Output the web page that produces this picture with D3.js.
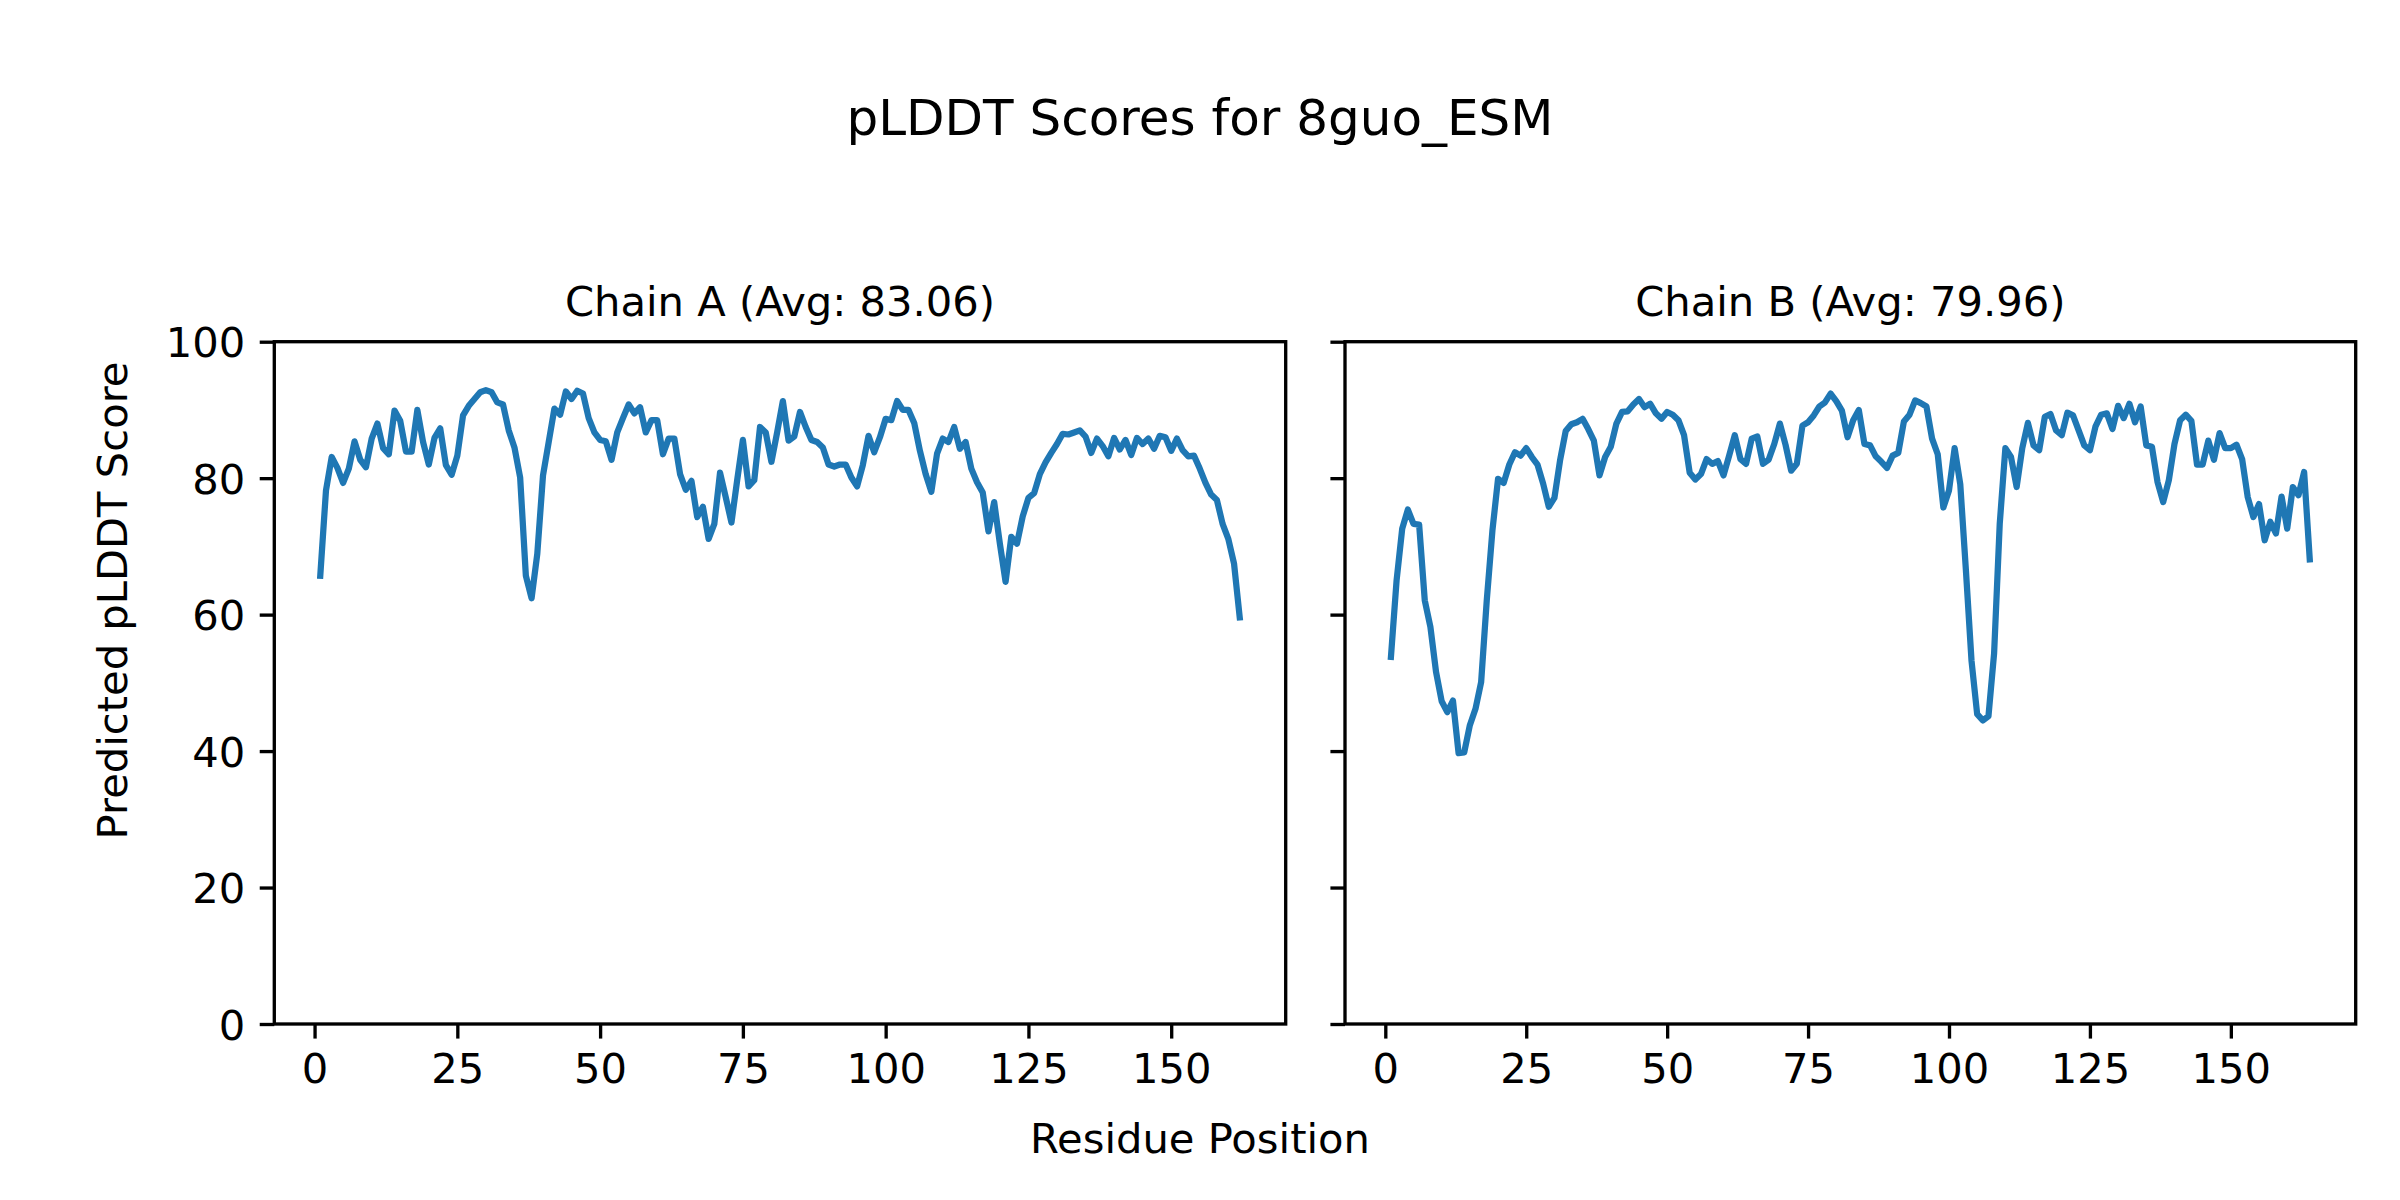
<!DOCTYPE html>
<html>
<head>
<meta charset="utf-8">
<script src="https://cdn.jsdelivr.net/npm/d3@7"></script>
<style>
  html, body { margin: 0; padding: 0; background: #ffffff; }
  svg { display: block; }
  text { font-family: "DejaVu Sans", sans-serif; fill: #000; }
</style>
</head>
<body>
<svg id="chart" width="2400" height="1200"></svg>
<script>
// ---------------- data ----------------
const figureTitle = "pLDDT Scores for 8guo_ESM";
const xAxisLabel = "Residue Position";
const yAxisLabel = "Predicted pLDDT Score";
const chainNames = ["Chain A", "Chain B"];
const chainAverages = ["83.06", "79.96"];
const xTickValues = [0, 25, 50, 75, 100, 125, 150];
const yTickValues = [0, 20, 40, 60, 80, 100];

const chainAScores = [
  65.7, 78.2, 83.1, 81.5, 79.3, 81.4, 85.4, 82.7, 81.6, 85.8,
  88.0, 84.4, 83.5, 89.9, 88.4, 83.9, 83.9, 90.0, 85.3, 82.0,
  85.9, 87.3, 81.9, 80.5, 83.3, 89.2, 90.6, 91.6, 92.6, 92.9,
  92.6, 91.1, 90.8, 87.0, 84.5, 80.1, 65.7, 62.4, 68.9, 80.4,
  85.3, 90.2, 89.3, 92.7, 91.6, 92.8, 92.4, 88.8, 86.7, 85.6,
  85.4, 82.7, 86.7, 88.8, 90.8, 89.5, 90.4, 86.7, 88.5, 88.5,
  83.5, 85.8, 85.8, 80.6, 78.3, 79.6, 74.3, 75.8, 71.1, 73.3,
  80.8, 77.2, 73.5, 79.7, 85.6, 78.8, 79.7, 87.5, 86.7, 82.4,
  86.7, 91.3, 85.5, 86.1, 89.7, 87.5, 85.6, 85.3, 84.5, 82.0,
  81.7, 82.0, 82.0, 80.1, 78.8, 81.9, 86.2, 83.8, 86.0, 88.7,
  88.5, 91.3, 90.0, 90.0, 88.1, 84.0, 80.6, 78.0, 83.6, 85.8,
  85.3, 87.5, 84.3, 85.3, 81.4, 79.4, 77.9, 72.2, 76.5, 70.4,
  64.8, 71.4, 70.4, 74.4, 77.1, 77.8, 80.6, 82.3, 83.7, 85.0,
  86.5, 86.4, 86.7, 87.0, 86.1, 83.7, 85.8, 84.7, 83.2, 85.9,
  84.2, 85.6, 83.4, 85.9, 85.0, 85.8, 84.3, 86.2, 86.0, 84.0,
  85.8, 84.1, 83.2, 83.3, 81.4, 79.3, 77.6, 76.8, 73.3, 71.1,
  67.5, 59.6
];

const chainBScores = [
  53.8, 65.0, 72.6, 75.4, 73.3, 73.2, 62.1, 58.2, 51.6, 47.3,
  45.7, 47.4, 39.7, 39.8, 43.8, 46.2, 50.1, 62.1, 72.3, 79.9,
  79.3, 82.0, 83.8, 83.3, 84.4, 83.1, 82.0, 79.2, 75.8, 77.1,
  82.6, 86.9, 87.9, 88.2, 88.7, 87.2, 85.5, 80.4, 83.1, 84.6,
  88.0, 89.7, 89.8, 90.8, 91.6, 90.4, 90.9, 89.5, 88.7, 89.7,
  89.3, 88.5, 86.3, 80.8, 79.8, 80.6, 82.8, 82.1, 82.5, 80.4,
  83.3, 86.3, 82.8, 82.1, 85.8, 86.1, 82.1, 82.7, 85.0, 88.0,
  84.9, 81.1, 82.1, 87.7, 88.2, 89.2, 90.5, 91.1, 92.4, 91.3,
  89.9, 86.0, 88.5, 90.0, 85.0, 84.8, 83.2, 82.4, 81.5, 83.3,
  83.7, 88.3, 89.3, 91.4, 91.0, 90.5, 85.8, 83.5, 75.7, 78.2,
  84.4, 79.1, 66.5, 53.2, 45.4, 44.5, 45.1, 54.3, 73.3, 84.4,
  83.1, 78.7, 84.4, 88.1, 84.8, 84.1, 89.0, 89.4, 87.0, 86.3,
  89.6, 89.2, 87.0, 84.8, 84.1, 87.6, 89.3, 89.5, 87.2, 90.6,
  88.8, 90.9, 88.2, 90.5, 84.8, 84.6, 79.4, 76.5, 79.7, 85.0,
  88.5, 89.3, 88.4, 82.0, 82.0, 85.5, 82.7, 86.6, 84.4, 84.4,
  84.9, 82.8, 77.2, 74.3, 76.2, 70.9, 73.6, 71.9, 77.3, 72.6,
  78.7, 77.5, 80.9, 68.1
];

// ---------------- layout ----------------
const svg = d3.select("#chart");
const PT = 300 / 72;              // px per point
const tickFont = 10 * PT;         // 41.67 px
const titleFont = 10 * PT;
const supFont = 12 * PT;          // 50 px
const spineW = 0.8 * PT;          // 3.33 px
const tickLen = 3.5 * PT;         // 14.6 px
const tickPad = 3.5 * PT;
const lineW = 1.5 * PT;           // 6.25 px
const lineColor = "#1f77b4";

const axTop = 341.7, axBottom = 1024;
const panels = [
  { name: chainNames[0], avg: chainAverages[0], scores: chainAScores, left: 274.3, right: 1285.7, showYLabels: true },
  { name: chainNames[1], avg: chainAverages[1], scores: chainBScores, left: 1345.0, right: 2355.7, showYLabels: false }
];

const yScale = d3.scaleLinear().domain([0, 100]).range([axBottom, axTop]);

panels.forEach(p => {
  const n = p.scores.length;
  const span = n - 1;
  const xScale = d3.scaleLinear()
    .domain([1 - 0.05 * span, n + 0.05 * span])
    .range([p.left, p.right]);

  const g = svg.append("g");

  // line
  const line = d3.line()
    .x((d, i) => xScale(i + 1))
    .y(d => yScale(d));
  g.append("path")
    .datum(p.scores)
    .attr("d", line)
    .attr("fill", "none")
    .attr("stroke", lineColor)
    .attr("stroke-width", lineW)
    .attr("stroke-linejoin", "round")
    .attr("stroke-linecap", "square");

  // x axis
  const xAxis = d3.axisBottom(xScale)
    .tickValues(xTickValues)
    .tickFormat(d3.format("d"))
    .tickSizeInner(tickLen)
    .tickSizeOuter(0)
    .tickPadding(tickPad);
  const gx = g.append("g")
    .attr("transform", `translate(0,${axBottom})`)
    .call(xAxis);
  gx.select(".domain").remove();
  gx.selectAll(".tick line").attr("stroke", "#000").attr("stroke-width", spineW);
  gx.selectAll(".tick text")
    .attr("font-size", tickFont)
    .attr("font-family", "DejaVu Sans")
    .attr("fill", "#000");

  // y axis
  const yAxis = d3.axisLeft(yScale)
    .tickValues(yTickValues)
    .tickFormat(p.showYLabels ? d3.format("d") : () => "")
    .tickSizeInner(tickLen)
    .tickSizeOuter(0)
    .tickPadding(tickPad);
  const gy = g.append("g")
    .attr("transform", `translate(${p.left},0)`)
    .call(yAxis);
  gy.select(".domain").remove();
  gy.selectAll(".tick line").attr("stroke", "#000").attr("stroke-width", spineW);
  gy.selectAll(".tick text")
    .attr("font-size", tickFont)
    .attr("font-family", "DejaVu Sans")
    .attr("fill", "#000")
    .attr("dy", "0.36em");

  // spines
  g.append("rect")
    .attr("x", p.left).attr("y", axTop)
    .attr("width", p.right - p.left).attr("height", axBottom - axTop)
    .attr("fill", "none")
    .attr("stroke", "#000")
    .attr("stroke-width", spineW)
    .attr("stroke-linejoin", "miter");

  // title
  g.append("text")
    .attr("x", (p.left + p.right) / 2)
    .attr("y", 315.5)
    .attr("text-anchor", "middle")
    .attr("font-size", titleFont)
    .text(`${p.name} (Avg: ${p.avg})`);
});

// figure title
svg.append("text")
  .attr("x", 1200).attr("y", 134.5)
  .attr("text-anchor", "middle")
  .attr("font-size", supFont)
  .text(figureTitle);

// shared x label
svg.append("text")
  .attr("x", 1200).attr("y", 1152.5)
  .attr("text-anchor", "middle")
  .attr("font-size", tickFont)
  .text(xAxisLabel);

// shared y label
svg.append("text")
  .attr("transform", "translate(126.5,600.5) rotate(-90)")
  .attr("text-anchor", "middle")
  .attr("font-size", tickFont)
  .text(yAxisLabel);
</script>
</body>
</html>
